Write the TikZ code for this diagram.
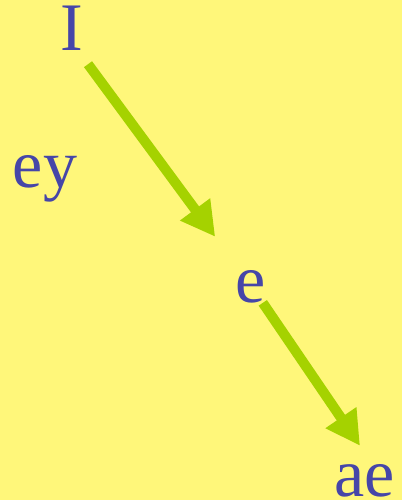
\documentclass[tikz,border=0pt]{standalone}
\usepackage{fontspec}
\setmainfont{Liberation Serif}
\usetikzlibrary{arrows.meta}
\definecolor{bgyellow}{HTML}{FFF77A}
\definecolor{vowelblue}{HTML}{4646A8}
\definecolor{shiftgreen}{HTML}{A5D200}
\begin{document}
\begin{tikzpicture}[x = 1pt, y = -1pt,
    vowel/.style = {anchor = base, inner sep = 0pt, text = vowelblue, font = \fontsize{68}{80}\selectfont},
    vowelshift/.style = {draw = shiftgreen, line width = 10pt, -{Triangle[length = 34pt, width = 35pt]}}]

        \fill [bgyellow] (0, 0) rectangle (402, 500);
        \useasboundingbox (0, 0) rectangle (402, 500);

        \node (v1) at (71.5, 51) [vowel] {I};
        \node (v2) at (45, 187) [vowel] {ey};
        \node (v3) at (250.5, 302) [vowel] {e};
        \node (v4) at (364.5, 496) [vowel] {ae};

        \draw [vowelshift] ([xshift = 5pt, yshift = -13pt] v1.south east) -- ([xshift = -20pt, yshift = 33pt] v3.north west);
        \draw [vowelshift] ([xshift = -3pt, yshift = 0pt] v3.south east) -- ([xshift = -4.5pt, yshift = 18pt] v4.north);

    \end{tikzpicture}
\end{document}
